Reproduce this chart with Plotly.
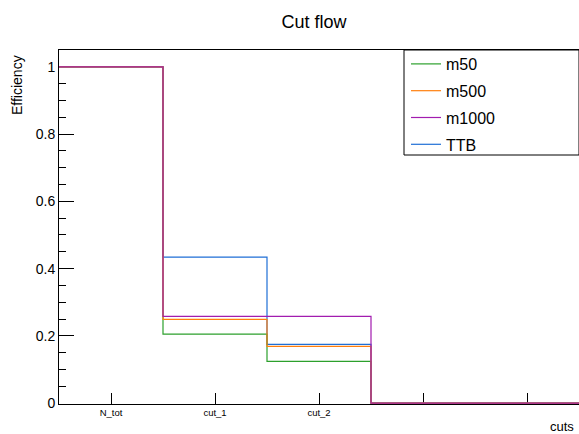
import plotly.graph_objects as go

# Cut-flow efficiencies per selection step (5 bins, last two unused)
cut_labels = ["N_tot", "cut_1", "cut_2", "", ""]
bin_edges = [0, 1, 2, 3, 4, 5]

series_names = ["m50", "m500", "m1000", "TTB"]
eff_m50 = [1.0, 0.205, 0.124, 0.0, 0.0]
eff_m500 = [1.0, 0.249, 0.169, 0.0, 0.0]
eff_m1000 = [1.0, 0.258, 0.258, 0.0, 0.0]
eff_ttb = [1.0, 0.434, 0.175, 0.0, 0.0]

colors = {
    "m50": "#2ca02c",
    "m500": "#ff7f0e",
    "m1000": "#a21caf",
    "TTB": "#1f6fd6",
}
values = {"m50": eff_m50, "m500": eff_m500, "m1000": eff_m1000, "TTB": eff_ttb}

FONT = "Liberation Sans, Arial, Helvetica, sans-serif"

fig = go.Figure()

# draw order: TTB first, m1000 last (on top); legend order follows series_names
draw_order = ["TTB", "m50", "m500", "m1000"]
for name in draw_order:
    vals = values[name]
    fig.add_trace(go.Scatter(
        x=bin_edges,
        y=vals + [vals[-1]],
        mode="lines",
        line=dict(shape="hv", color=colors[name], width=1.2),
        name=name,
        legendgroup=name,
        legendrank=series_names.index(name) + 1,
        hoverinfo="skip",
    ))

fig.update_layout(
    width=579,
    height=434,
    margin=dict(l=59, r=0, t=50, b=30),
    paper_bgcolor="white",
    plot_bgcolor="white",
    font=dict(family=FONT, color="black"),
    title=dict(
        text="Cut flow",
        x=314 / 579,
        xref="container",
        xanchor="center",
        y=1 - 22 / 434,
        yref="container",
        yanchor="middle",
        font=dict(size=18, family=FONT, color="black"),
    ),
    showlegend=True,
    legend=dict(
        x=(406 - 59) / 520,
        xanchor="left",
        y=1.0085,
        yanchor="top",
        bgcolor="rgba(0,0,0,0)",
        borderwidth=0,
        font=dict(size=16, family=FONT, color="black"),
        tracegroupgap=3,
        traceorder="grouped",
    ),
    shapes=[
        dict(
            type="rect", xref="paper", yref="paper",
            x0=(404 - 59) / 520, x1=1.0,
            y0=(404 - 155) / 354, y1=1.0,
            line=dict(color="black", width=1),
            fillcolor="white",
            layer="above",
        )
    ],
    annotations=[
        dict(
            text="Efficiency", xref="paper", yref="paper",
            x=(17 - 59) / 520, y=(404 - 53) / 354,
            xanchor="center", yanchor="top",
            textangle=-90, showarrow=False,
            font=dict(size=14, family=FONT, color="black"),
        ),
        dict(
            text="cuts", xref="paper", yref="paper",
            x=(576 - 59) / 520, y=(404 - 427) / 354,
            xanchor="right", yanchor="middle",
            showarrow=False,
            font=dict(size=13, family=FONT, color="black"),
        ),
    ],
)

fig.update_xaxes(
    range=[0, 5],
    tickvals=[0.5, 1.5, 2.5, 3.5, 4.5],
    ticktext=cut_labels,
    ticks="inside",
    ticklen=11,
    tickwidth=1,
    tickcolor="black",
    tickfont=dict(size=9.5, family=FONT, color="black"),
    showline=True,
    linecolor="black",
    linewidth=1,
    mirror=True,
    showgrid=False,
    zeroline=False,
    layer="below traces",
)

fig.update_yaxes(
    range=[-0.0025, 1.05],
    tickvals=[0, 0.2, 0.4, 0.6, 0.8, 1.0],
    ticktext=["0", "0.2", "0.4", "0.6", "0.8", "1"],
    ticks="inside",
    ticklen=15,
    tickwidth=1,
    tickcolor="black",
    tickfont=dict(size=14, family=FONT, color="black"),
    minor=dict(ticks="inside", ticklen=7, dtick=0.05, tick0=0, tickcolor="black", tickwidth=1),
    showline=True,
    linecolor="black",
    linewidth=1,
    mirror=False,
    showgrid=False,
    zeroline=False,
    layer="below traces",
)

fig.write_html("out.html")
